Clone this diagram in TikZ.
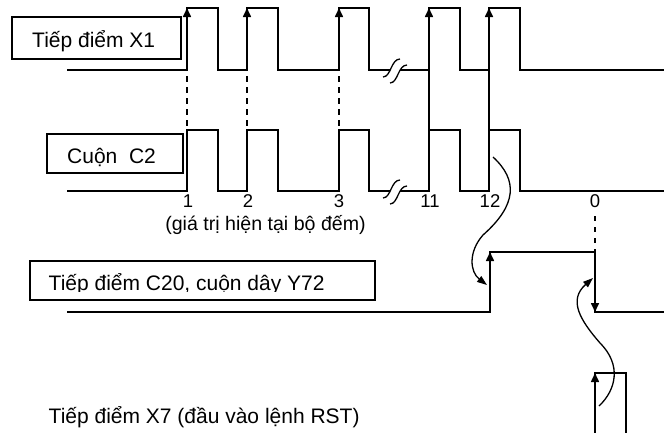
\documentclass[tikz,border=0pt]{standalone}
\usepackage{fontspec}
\setmainfont{Liberation Sans}
\usetikzlibrary{arrows.meta}
\begin{document}
\begin{tikzpicture}[x=1pt,y=-1pt,
  sig/.style={line width=1.6pt, line join=miter},
  boxst/.style={draw, line width=2.2pt, inner sep=0pt, anchor=north west},
  lbl/.style={inner sep=0pt, anchor=base west, font=\fontsize{21}{24}\selectfont},
  num/.style={inner sep=0pt, anchor=base, font=\fontsize{18.5}{21}\selectfont},
  tick/.style={line width=1.4pt, dash pattern=on 6pt off 5pt},
  uparr/.style={line width=1.6pt, -{Triangle[width=8pt,length=9pt]}},
  curv/.style={line width=1.3pt, -{Triangle[width=7pt,length=10pt]}},
  brk/.style={line width=1.3pt}
]
\useasboundingbox (0,0) rectangle (664,432);

% boxes
\node[boxst, minimum width=168.8pt, minimum height=41.8pt] (boxX1) at (11.1,16.1) {};
\node[boxst, minimum width=135.8pt, minimum height=38.8pt] (boxC2) at (46.1,133.1) {};
\node[boxst, minimum width=344.8pt, minimum height=38.8pt] (boxC20) at (29.1,260.1) {};

% box texts
\node[lbl] (tX1) at (32,47) {Tiếp điểm X1};
\node[lbl] (tC2) at (67,163) {Cuộn\ \ C2};
\begin{scope}
  \clip (29,260) rectangle (374,291.5);
  \node[lbl] (tC20) at (48.5,290) {Tiếp điểm C20, cuộn dây Y72};
\end{scope}
\node[lbl] (tX7) at (48.5,423) {Tiếp điểm X7 (đầu vào lệnh RST)};
\node[inner sep=0pt, anchor=base, font=\fontsize{19.6}{22}\selectfont] (tnote) at (265.5,230) {(giá trị hiện tại bộ đếm)};

% X1 signal
\draw[sig] (67,70) -- (187,70) -- (187,8) -- (218,8) -- (218,70) -- (247,70) -- (247,8) -- (278,8) -- (278,70)
  -- (339,70) -- (339,8) -- (369,8) -- (369,70) -- (429,70) -- (429,8) -- (460,8) -- (460,70)
  -- (489,70) -- (489,8) -- (520,8) -- (520,70) -- (666,70);
% C2 signal
\draw[sig] (67,191) -- (187,191) -- (187,130) -- (218,130) -- (218,191) -- (247,191) -- (247,130) -- (278,130) -- (278,191)
  -- (339,191) -- (339,130) -- (369,130) -- (369,191) -- (429,191) -- (429,130) -- (460,130) -- (460,191)
  -- (489,191) -- (489,130) -- (520,130) -- (520,191) -- (666,191);

% rising-edge arrows on X1
\foreach \xx in {187,247,339,429,489} {
  \draw[uparr] (\xx,50) -- (\xx,8);
}
% links between X1 and C2
\foreach \xx in {187,247,339} {
  \draw[tick] (\xx,76) -- (\xx,129);
}
\draw[sig] (429,70) -- (429,130);
\draw[sig] (489,70) -- (489,130);

% break marks
\foreach \yy in {70,191} {
  \begin{scope}[shift={(0,\yy)}]
    \fill[white] (383,7) .. controls (391,7) and (391,-11) .. (400,-11) -- (407,-5) .. controls (398,-5) and (398,13) .. (390,13) -- cycle;
    \draw[brk] (383,7) .. controls (391,7) and (391,-11) .. (400,-11);
    \draw[brk] (390,13) .. controls (398,13) and (398,-5) .. (407,-5);
  \end{scope}
}

% counter values
\node[num] (n1) at (188,207) {1};
\node[num] (n2) at (248,207) {2};
\node[num] (n3) at (339,207) {3};
\node[num] (n11) at (430,207) {11};
\node[num] (n12) at (490,207) {12};
\node[num] (n0) at (595,207) {0};

% C20 / Y72 signal
\draw[sig] (67,312) -- (490,312) -- (490,252) -- (595,252) -- (595,312) -- (666,312);
\draw[uparr] (490,290) -- (490,252);
\draw[uparr] (595,275) -- (595,312);
\draw[line width=1.4pt, dash pattern=on 5pt off 6pt] (595,216) -- (595,251);

% X7 signal
\draw[sig] (595,434) -- (595,373) -- (626,373) -- (626,434);
\draw[uparr] (595,410) -- (595,373);

% causal arrows
\coordinate (a1s) at (493,157);
\coordinate (a1m) at (483,235);
\coordinate (a1e) at (487,285);
\draw[curv] (a1s) .. controls (518,180) and (517,205) .. (a1m) .. controls (468,252) and (470,272) .. (a1e);
\coordinate (a2s) at (599,406);
\coordinate (a2m) at (600,343);
\coordinate (a2e) at (593,278);
\draw[curv] (a2s) .. controls (616,390) and (622,365) .. (a2m) .. controls (580,320) and (568,300) .. (a2e);
\end{tikzpicture}
\end{document}
